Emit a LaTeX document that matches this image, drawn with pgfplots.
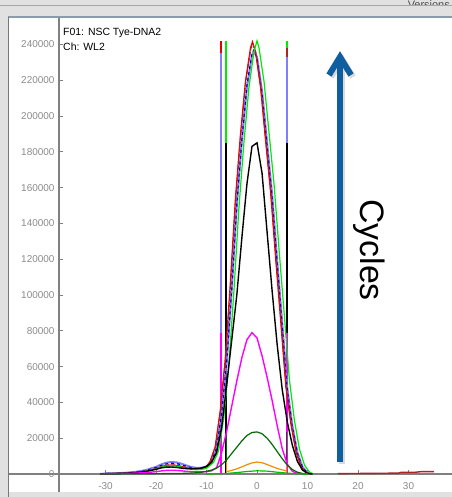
\documentclass[border=0pt]{standalone}
\usepackage{fontspec}
\setmainfont{Liberation Sans}
\usepackage{pgfplots}
\pgfplotsset{compat=1.18}
\definecolor{tickgray}{RGB}{140,140,140}
\definecolor{axgray}{RGB}{128,128,128}
\definecolor{lblue}{RGB}{128,128,255}
\definecolor{dblue}{RGB}{0,0,190}
\definecolor{dred}{RGB}{178,34,34}
\definecolor{myred}{RGB}{230,0,0}
\definecolor{lime}{RGB}{0,235,0}
\definecolor{dgreen}{RGB}{0,105,0}
\definecolor{orng}{RGB}{245,140,0}
\definecolor{mag}{RGB}{255,0,255}
\definecolor{arrowblue}{RGB}{14,94,160}
\definecolor{framegray}{RGB}{225,225,225}
\definecolor{framedark}{RGB}{120,120,120}
\definecolor{framelinebl}{RGB}{140,155,170}
\begin{document}
\begin{tikzpicture}
\path[use as bounding box] (0,0) rectangle (452bp,-497bp);
\begin{scope}[x=1bp,y=-1bp]
\fill[framegray] (0,0) rectangle (452,497);
\fill[white] (9,18) rectangle (452,492);
\draw[gray!70, line width=0.8bp] (0,5.5) -- (452,5.5);
\draw[framelinebl, line width=1.5bp] (8,17) -- (452,17);
\draw[framedark, line width=1.5bp] (8.5,16.5) -- (8.5,497);
\begin{scope}
\clip (300,0) rectangle (452,5);
\node[anchor=base east, font=\fontsize{11}{13}\selectfont, text=gray!60!black, inner sep=0pt] at (450,8) {Versions};
\end{scope}
\draw[axgray, line width=1.2bp] (9,474) -- (59,474);
\end{scope}
\begin{axis}[
  at={(59bp,-492bp)}, anchor=south west,
  scale only axis, width=393bp, height=474bp,
  xmin=-39.21, xmax=38.61, ymin=-10056, ymax=254750,
  axis x line=middle, axis y line=left,
  axis line style={axgray, line width=1.2bp, -},
  hide obscured x ticks=false, hide obscured y ticks=false,
  xtick={-30,-20,...,30},
  ytick={0,20000,...,240000},
  scaled y ticks=false,
  /pgf/number format/assume math mode=true,
  yticklabel style={/pgf/number format/fixed, /pgf/number format/1000 sep={}},
  tick style={axgray, line width=0.8bp},
  major tick length=4bp,
  tick align=inside,
  ticklabel style={font=\fontsize{10}{12}\selectfont, text=tickgray},
  xticklabel style={yshift=-5bp},
  yticklabel style={xshift=-1bp},
  clip=false,
]
% vertical integration markers (tallest first)
\addplot[myred, line width=1.8bp] coordinates {(-7.2,0)(-7.2,242000)};
\addplot[lblue, line width=1.8bp] coordinates {(-7.2,0)(-7.2,235000)};
\addplot[mag, line width=1.8bp] coordinates {(-7.2,0)(-7.2,79000)};
\addplot[lime, line width=1.8bp] coordinates {(-6.1,0)(-6.1,242000)};
\addplot[black, line width=1.8bp] coordinates {(-6.1,0)(-6.1,185000)};
\addplot[dgreen, line width=1.2bp] coordinates {(-6.1,0)(-6.1,23500)};
\addplot[orng, line width=1.2bp] coordinates {(-6.1,0)(-6.1,6700)};
\addplot[lime, line width=1.8bp] coordinates {(5.9,0)(5.9,242000)};
\addplot[dred, line width=1.8bp] coordinates {(5.9,0)(5.9,238000)};
\addplot[lblue, line width=1.8bp] coordinates {(5.9,0)(5.9,233000)};
\addplot[black, line width=1.8bp] coordinates {(5.9,0)(5.9,185000)};
\addplot[mag, line width=1.8bp] coordinates {(5.9,0)(5.9,79000)};
\addplot[dgreen, line width=1.2bp] coordinates {(5.9,0)(5.9,23500)};
\addplot[orng, line width=1.2bp] coordinates {(5.9,0)(5.9,6700)};
% light blue
\addplot[lblue, line width=2bp] coordinates {(-31,0)(-30,300)(-28,400)(-26,700)(-24,1200)(-22,2200)(-20,4000)(-19,5300)(-18,6300)(-17,6700)(-16,6500)(-15,5800)(-14,4800)(-13,3900)(-12,3400)(-11,3500)(-10,4300)(-9,7000)(-8,14000)(-7,33000)(-6,62000)(-5,103000)(-4,150000)(-3,186000)(-2,216000)(-1,234000)(-0.6,236000)(0,233000)(1,214000)(2,185000)(3,156000)(4,119000)(5,84000)(6,48000)(7,27000)(8,12000)(9,4000)(10,600)(11,0)};
% dark blue dashed
\addplot[dblue, line width=1.2bp, dash pattern=on 3bp off 3bp] coordinates {(-31,0)(-30,250)(-28,350)(-26,600)(-24,1000)(-22,1900)(-20,3600)(-19,4700)(-18,5600)(-17,6000)(-16,5800)(-15,5200)(-14,4300)(-13,3500)(-12,3100)(-11,3300)(-10,4200)(-9,7200)(-8,14500)(-7,34000)(-6,63000)(-5,104000)(-4,151000)(-3,187000)(-2,217000)(-1,235000)(-0.6,237000)(0,232000)(1,212000)(2,183000)(3,154000)(4,117000)(5,82000)(6,47000)(7,26000)(8,11500)(9,3800)(10,500)(11,0)};
% red
\addplot[myred, line width=1.2bp] coordinates {(-31,0)(-30,200)(-28,300)(-26,500)(-24,800)(-22,1500)(-20,3000)(-19,4000)(-18,4800)(-17,5000)(-16,4800)(-15,4200)(-14,3500)(-13,3000)(-12,2900)(-11,3100)(-10,4000)(-9.3,7000)(-8.3,15000)(-7.3,35000)(-6.3,64000)(-5.3,106000)(-4.3,153000)(-3.3,189000)(-2.3,219000)(-1.3,238000)(-0.9,241500)(-0.3,236000)(0.7,216000)(1.7,186000)(2.7,157000)(3.7,120000)(4.7,85000)(5.7,49000)(6.7,28000)(7.7,12500)(8.7,4200)(9.7,700)(10.7,0)};
% dark red dashed
\addplot[dred, line width=1.2bp, dash pattern=on 4bp off 2bp] coordinates {(-31,0)(-30,200)(-28,300)(-26,500)(-24,900)(-22,1600)(-20,3100)(-19,4100)(-18,4900)(-17,5100)(-16,4900)(-15,4300)(-14,3600)(-13,3100)(-12,3000)(-11,3200)(-10,4100)(-9.2,7200)(-8.2,15500)(-7.2,36000)(-6.2,65000)(-5.2,107000)(-4.2,154000)(-3.2,190000)(-2.2,220000)(-1.2,238000)(-0.8,240000)(-0.2,235000)(0.8,215000)(1.8,185000)(2.8,156000)(3.8,119000)(4.8,84000)(5.8,48000)(6.8,27500)(7.8,12000)(8.8,4000)(9.8,600)(10.8,0)};
% lime
\addplot[lime, line width=1.2bp] coordinates {(-31,0)(-30,200)(-28,300)(-26,500)(-24,800)(-22,1500)(-20,2800)(-19,3800)(-18,4400)(-17,4600)(-16,4400)(-15,3800)(-14,3100)(-13,2600)(-12,2400)(-11,2600)(-10,3200)(-8.6,6500)(-7.6,13000)(-6.6,31000)(-5.6,60000)(-4.6,101000)(-3.6,148000)(-2.6,185000)(-1.6,216000)(-0.6,236000)(0,242000)(0.4,238000)(1.4,219000)(2.4,190000)(3.4,161000)(4.4,124000)(5.4,89000)(6.4,53000)(7.4,30000)(8.4,14000)(9.4,5000)(10.4,1000)(11.2,0)};
% black
\addplot[black, line width=1.4bp] coordinates {(-31,0)(-30,200)(-28,300)(-26,500)(-24,800)(-22,1400)(-20,2600)(-19,3400)(-18,3800)(-17,3900)(-16,3700)(-15,3300)(-14,3000)(-13,2900)(-12,3000)(-11,3300)(-10,4200)(-9,6500)(-8,12000)(-7,26000)(-6,50000)(-5,75000)(-4,100000)(-3,132000)(-2,162000)(-1,183000)(0,185000)(1,168000)(2,135000)(3,102000)(4,72000)(5,47000)(6,29000)(7,16000)(8,7000)(9,2200)(10,400)(11,0)};
% magenta
\addplot[mag, line width=1.4bp] coordinates {(-31,0)(-28,200)(-24,500)(-22,800)(-20,1300)(-19,1700)(-18,2000)(-17,2100)(-16,2000)(-15,1800)(-14,1500)(-13,1300)(-12,1200)(-11,1200)(-10,1300)(-9,1800)(-8,3500)(-7,12000)(-6,24000)(-5,38000)(-4,52000)(-3,65000)(-2,75000)(-1,79000)(0,76000)(1,66000)(2,54000)(3,41000)(4,27000)(5,14000)(6,5500)(7,1500)(8,300)(9,0)};
% dark green
\addplot[dgreen, line width=1.2bp] coordinates {(-31,0)(-24,100)(-20,200)(-16,300)(-14,400)(-12,700)(-11,1000)(-10,1500)(-9,2200)(-8,3300)(-7,5200)(-6,8000)(-5,11500)(-4,15000)(-3,18500)(-2,21500)(-1,23200)(0,23500)(1,22500)(2,20000)(3,16500)(4,12500)(5,8500)(6,5000)(7,2500)(8,1000)(9,300)(10,0)};
% orange
\addplot[orng, line width=1.2bp] coordinates {(-6.1,1300)(-5,2000)(-4,2900)(-3,4000)(-2,5200)(-1,6200)(0,6700)(1,6300)(2,5300)(3,4200)(4,3100)(5,2300)(5.9,1700)};
% low green
\addplot[lime!80!black, line width=1.2bp] coordinates {(-10,0)(-8,100)(-6,300)(-4,800)(-2,1400)(0,1800)(2,1600)(4,1000)(6,500)(8,100)(10,0)};
% right red trace
\addplot[dred, line width=1.4bp] coordinates {(16,200)(20,300)(24,400)(28,500)(28.5,900)(31,900)(32.5,1300)(35,1300)};
\end{axis}
\begin{scope}[x=1bp,y=-1bp]
\node[anchor=west, inner sep=0pt, font=\fontsize{10.5}{12}\selectfont] at (63,33) {F01: NSC Tye-DNA2};
\node[anchor=west, inner sep=0pt, font=\fontsize{10.5}{12}\selectfont] at (63,47) {Ch: WL2};
% arrow with soft shadow
\draw[black, opacity=0.15, line width=6bp] (342,464) -- (342,60);
\draw[black, opacity=0.15, line width=6bp, line join=miter] (331,77) -- (342,59) -- (353,77);
\draw[arrowblue, line width=6bp] (340,462) -- (340,58);
\draw[arrowblue, line width=6bp, line join=miter] (329,75) -- (340,57) -- (351,75);
\node[rotate=-90, font=\fontsize{34}{40}\selectfont] at (369,250) {Cycles};
\end{scope}
\end{tikzpicture}
\end{document}
